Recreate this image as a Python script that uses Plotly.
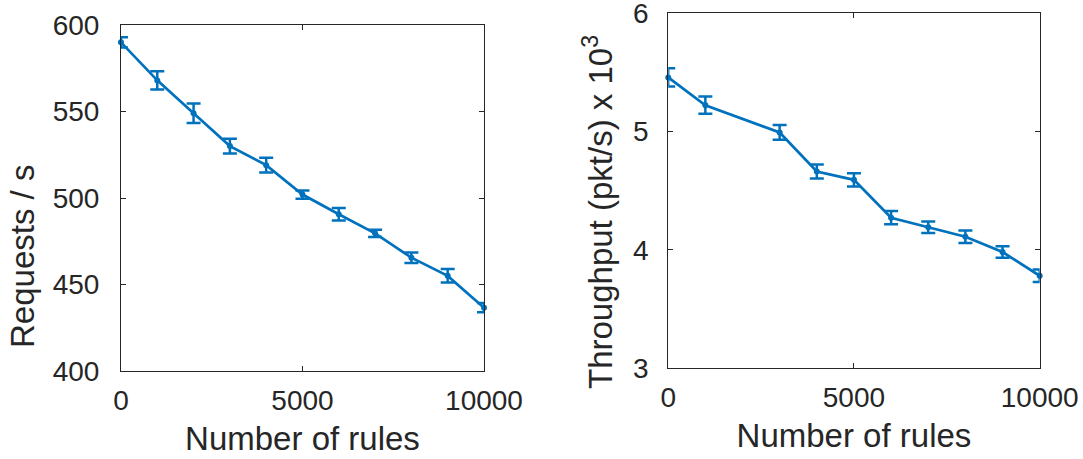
import plotly.graph_objects as go

# Left panel: requests per second
rules_left = [0, 1000, 2000, 3000, 4000, 5000, 6000, 7000, 8000, 9000, 10000]
requests = [590, 568, 549, 530, 519, 502, 490.6, 479.6, 465.5, 455, 436.6]
requests_err = [3.0, 5.3, 5.6, 4.2, 4.3, 2.4, 3.6, 2.1, 3.0, 3.9, 2.7]

# Right panel: throughput (x 10^3 pkt/s)
rules_right = [0, 1000, 3000, 4000, 5000, 6000, 7000, 8000, 9000, 10000]
throughput = [5.455, 5.22, 4.99, 4.66, 4.59, 4.27, 4.19, 4.11, 3.98, 3.78]
throughput_err = [0.077, 0.073, 0.062, 0.059, 0.056, 0.056, 0.049, 0.053, 0.049, 0.052]

left_yticks = [400, 450, 500, 550, 600]
right_yticks = [3, 4, 5, 6]
xticks = [0, 5000, 10000]

x_title = "Number of rules"
left_y_title = "Requests / s"
right_y_title = "Throughput (pkt/s) x 10<sup>3</sup>"

BLUE = "#0072BD"
TXT = "#262626"
FONT = "Liberation Sans, Arial, sans-serif"
W, H = 1083, 459

fig = go.Figure()
fig.add_trace(go.Scatter(
    x=rules_left, y=requests, mode="lines+markers",
    line=dict(color=BLUE, width=2.7), marker=dict(color=BLUE, size=6),
    error_y=dict(type="data", array=requests_err, color=BLUE, thickness=2.5, width=7),
    xaxis="x", yaxis="y", cliponaxis=False, showlegend=False))
fig.add_trace(go.Scatter(
    x=rules_right, y=throughput, mode="lines+markers",
    line=dict(color=BLUE, width=2.7), marker=dict(color=BLUE, size=6),
    error_y=dict(type="data", array=throughput_err, color=BLUE, thickness=2.5, width=7),
    xaxis="x2", yaxis="y2", cliponaxis=False, showlegend=False))

axis_common = dict(
    showline=True, linecolor=TXT, linewidth=1, mirror="ticks",
    ticks="inside", ticklen=5, tickcolor=TXT, tickwidth=1,
    showgrid=False, zeroline=False, automargin=False,
    ticklabeloverflow="allow",
    tickfont=dict(family=FONT, size=28, color=TXT),
    title_font=dict(family=FONT, size=33, color=TXT),
)

fig.update_layout(
    width=W, height=H,
    margin=dict(l=0, r=0, t=0, b=0),
    paper_bgcolor="white", plot_bgcolor="white",
    font=dict(family=FONT, color=TXT),
    xaxis=dict(domain=[0.1117, 0.4469], range=[0, 10000], tickvals=xticks,
               ticktext=[str(v) for v in xticks], anchor="y",
               title=dict(text=x_title, standoff=12),
               ticklabelstandoff=4, **axis_common),
    yaxis=dict(domain=[0.1917, 0.9455], range=[400, 600], tickvals=left_yticks,
               anchor="x", ticklabelstandoff=15, **axis_common),
    xaxis2=dict(domain=[0.617, 0.960], range=[0, 10000], tickvals=xticks,
                ticktext=[str(v) for v in xticks], anchor="y2",
                title=dict(text=x_title, standoff=12),
                ticklabelstandoff=4, **axis_common),
    yaxis2=dict(domain=[0.198, 0.972], range=[3, 6], tickvals=right_yticks,
                anchor="x2", ticklabelstandoff=13, **axis_common),
)

fig.add_annotation(text=left_y_title, textangle=-90, xref="paper", yref="paper",
                   x=22 / W, y=1 - 257 / H, xanchor="center", yanchor="middle",
                   showarrow=False, font=dict(family=FONT, size=33, color=TXT))
fig.add_annotation(text=right_y_title, textangle=-90, xref="paper", yref="paper",
                   x=598 / W, y=1 - 212 / H, xanchor="center", yanchor="middle",
                   showarrow=False, font=dict(family=FONT, size=33, color=TXT))

fig.write_html("out.html")
